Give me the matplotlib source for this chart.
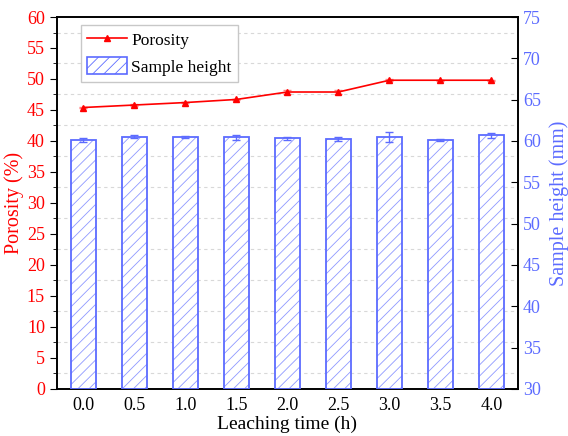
import numpy as np
import matplotlib.pyplot as plt
from matplotlib.patches import Patch
from matplotlib.lines import Line2D
from matplotlib.ticker import MultipleLocator

plt.rcParams['font.family'] = ['Liberation Serif', 'DejaVu Serif']
plt.rcParams['hatch.linewidth'] = 0.6

# data
times = [0.0, 0.5, 1.0, 1.5, 2.0, 2.5, 3.0, 3.5, 4.0]
time_labels = ['0.0', '0.5', '1.0', '1.5', '2.0', '2.5', '3.0', '3.5', '4.0']
porosity = [45.4, 45.8, 46.2, 46.7, 47.9, 47.9, 49.8, 49.8, 49.8]
porosity_err = [0.1, 0.1, 0.1, 0.1, 0.35, 0.3, 0.15, 0.1, 0.1]
height = [60.1, 60.5, 60.5, 60.45, 60.3, 60.2, 60.5, 60.1, 60.7]
height_err = [0.2, 0.2, 0.15, 0.3, 0.2, 0.25, 0.6, 0.1, 0.3]

red = '#FF0000'
blue = '#5C6BFF'
hatch_blue = '#8E98FF'

fig = plt.figure(figsize=(5.68, 4.36), dpi=100)
ax1 = fig.add_axes([0.100, 0.108, 0.812, 0.853])
ax2 = ax1.twinx()

# gridlines at the left-axis minor positions
ax1.set_ylim(0, 60)
ax1.yaxis.set_major_locator(MultipleLocator(5))
ax1.yaxis.set_minor_locator(MultipleLocator(2.5))
ax1.grid(True, which='minor', axis='y', color='#D8D8D8', linestyle=(0, (3, 3)), linewidth=0.8)
ax1.set_xlim(-0.26, 4.26)

# bars on the right axis
ax2.set_ylim(30, 75)
bottoms = 30
bar_h = [h - bottoms for h in height]
ax2.bar(times, bar_h, width=0.25, bottom=bottoms, color='white', edgecolor=hatch_blue,
        hatch='///', linewidth=0, zorder=2)
ax2.bar(times, bar_h, width=0.25, bottom=bottoms, fill=False, edgecolor=blue,
        linewidth=1.3, zorder=3)
ax2.errorbar(times, height, yerr=height_err, fmt='none', ecolor=blue, elinewidth=1.0,
             capsize=3, capthick=1.0, zorder=4)

# porosity line drawn on top (mapped from the left scale onto the right one)
por_y = [(p / 60) * 45 + 30 for p in porosity]
por_e = [e / 60 * 45 for e in porosity_err]
ax2.errorbar(times, por_y, yerr=por_e, fmt='-^', color=red, markersize=4.5,
             linewidth=1.2, ecolor='#FF8080', capsize=3, elinewidth=0.8, zorder=5)

# axes styling
ax1.set_xticks(times)
ax1.set_xticklabels(time_labels)
ax1.tick_params(axis='x', direction='in', length=4, labelsize=13, top=False, pad=6)
ax1.tick_params(axis='y', which='major', direction='out', length=5, labelsize=13,
                labelcolor=red, colors='black')
ax1.tick_params(axis='y', which='minor', direction='out', length=3)
for lab in ax1.get_yticklabels():
    lab.set_color(red)

ax2.yaxis.set_major_locator(MultipleLocator(5))
ax2.tick_params(axis='y', direction='in', length=5, labelsize=13, labelcolor=blue)

ax1.set_xlabel('Leaching time (h)', fontsize=14, labelpad=1)
ax1.set_ylabel('Porosity (%)', fontsize=14.5, color=red, labelpad=2)
ax2.set_ylabel('Sample height (mm)', fontsize=14.5, color=blue, labelpad=6)

for ax in (ax1, ax2):
    for sp in ax.spines.values():
        sp.set_linewidth(1.2)

handles = [
    Line2D([0], [0], color=red, marker='^', markersize=4.5, linewidth=1.2),
    Patch(facecolor='white', edgecolor=blue, hatch='///', linewidth=1.2),
]
ax2.legend(handles, ['Porosity', 'Sample height'], loc='upper left', fontsize=12.5,
           frameon=True, fancybox=False, edgecolor='#C8C8C8', framealpha=1,
           bbox_to_anchor=(0.052, 0.978), borderaxespad=0, handlelength=2.3,
           handleheight=1.1, handletextpad=0.25, borderpad=0.35, labelspacing=0.45)

fig.savefig('out.png', dpi=100)
